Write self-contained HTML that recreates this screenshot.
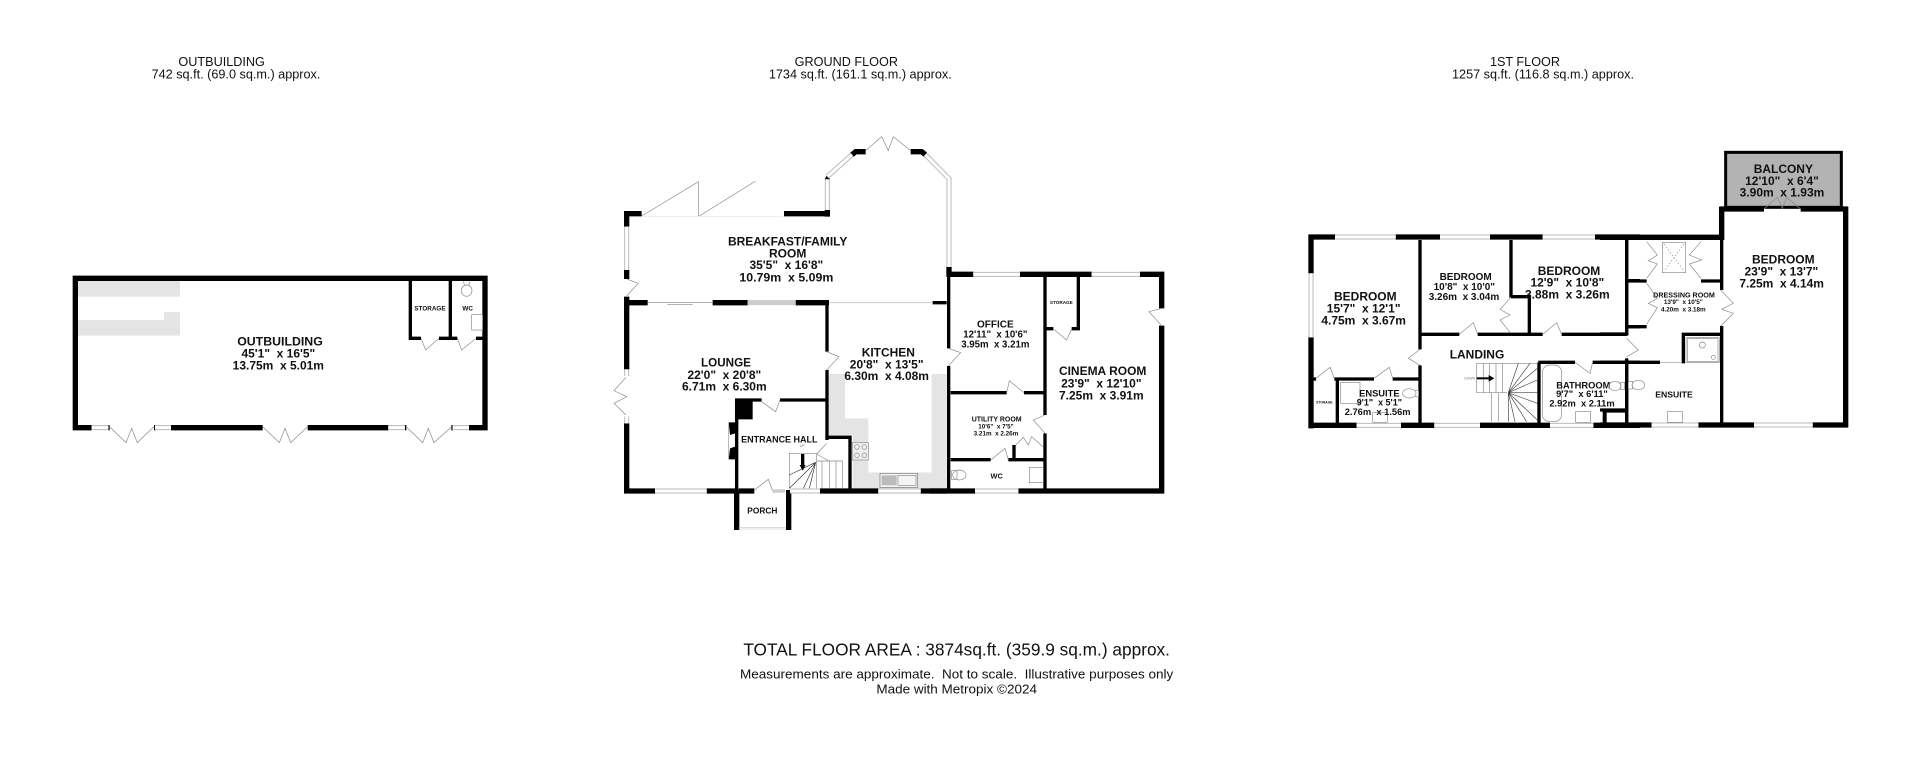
<!DOCTYPE html>
<html><head><meta charset="utf-8"><style>
html,body{margin:0;padding:0;background:#fff}
svg{display:block}
text{font-family:"Liberation Sans",sans-serif;white-space:pre;text-anchor:middle;fill:#111}
.b{font-weight:bold}
.o{stroke:#000;stroke-width:16;fill:none}
.i{stroke:#000;stroke-width:10;fill:none}
.g{stroke:#888;stroke-width:2;fill:none}
.l{stroke:#999;stroke-width:2;fill:none}
.c{fill:#e4e4e4;stroke:none}
.wa{stroke:#bbb;stroke-width:15;fill:none}
.wb{stroke:#fff;stroke-width:9;fill:none}
.wc{stroke:#bbb;stroke-width:1.5;fill:none}
.k{fill:#000;stroke:none}
</style></head><body>
<svg width="1920" height="757" viewBox="0 0 1920 757" xmlns="http://www.w3.org/2000/svg">
<rect width="1920" height="757" fill="#fff"/>

<!-- Headings -->
<g transform="translate(130,40) scale(.33333)">
<text x="275" y="78" font-size="38">OUTBUILDING</text>
<text x="318" y="115" font-size="38">742 sq.ft. (69.0 sq.m.) approx.</text>
</g>
<g transform="translate(740,40) scale(.33333)">
<text x="319" y="78" font-size="38">GROUND FLOOR</text>
<text x="361" y="115" font-size="38">1734 sq.ft. (161.1 sq.m.) approx.</text>
</g>
<g transform="translate(1430,40) scale(.33333)">
<text x="285" y="78" font-size="38">1ST FLOOR</text>
<text x="339" y="115" font-size="38">1257 sq.ft. (116.8 sq.m.) approx.</text>
</g>

<!-- Outbuilding -->
<g transform="translate(50,250) scale(.33333)">
<rect class="c" x="84" y="93" width="306" height="47"/>
<polygon class="c" points="84,210 342,210 342,186 390,186 390,257 84,257"/>
<path class="o" d="M68 85H1313M76 77V541M1305 77V541M68 533H125M363 533H638M773 533H1015M1257 533H1313"/>
<path class="i" d="M1081 93V270M1076 265H1113M1167 265H1222M1201 93V270M1278 265H1298"/>
<path class="i" style="stroke-width:4" d="M177 525V541M314 525V541M1067 525V541M1206 525V541"/>
<path class="wa" d="M125 533H175M315 533H363M1015 533H1065M1208 533H1257"/>
<path class="wb" d="M125 533H175M315 533H363M1015 533H1065M1208 533H1257"/>
<path class="g" d="M178 530L228 578L245 535L262 578L312 530M638 530L688 578L705 535L722 578L773 530M1068 530L1118 578L1135 535L1152 578L1205 530M1113 265L1127 300L1167 265M1222 265L1235 300L1278 265"/>
<ellipse class="g" cx="1250" cy="122" rx="16" ry="17"/>
<path class="g" d="M1240 95L1244 106M1260 95L1256 106"/>
<rect class="g" x="1265" y="194" width="33" height="46"/>
<text class="b" x="690" y="287" font-size="37">OUTBUILDING</text>
<text class="b" x="685" y="323" font-size="36">45'1"  x 16'5"</text>
<text class="b" x="685" y="359" font-size="36">13.75m  x 5.01m</text>
<text class="b" x="1140" y="182" font-size="19">STORAGE</text>
<text class="b" x="1253" y="182" font-size="19">WC</text>
</g>

<!-- Ground floor: breakfast room -->
<g transform="translate(610,120) scale(.33333)">
<path class="o" d="M42 281H95M50 273V320M50 450V477M50 530V560M522 281H660M652 270V290M42 548H113M308 548H413M557 548H657M1017 441V471"/>
<path class="k" d="M644 178L652 163L660 178Z"/>
<path class="o" d="M725 105L737 95H767M902 95H935L946 104"/>
<path class="wa" d="M50 320V450M652 178V270M652 170L726 104M946 104L1017 176V441"/>
<path class="wb" d="M50 320V450M652 178V270M652 170L726 104M946 104L1017 176V441"/>
<path class="g" d="M50 477L85 490L50 528M95 288L265 185V290L437 183M767 92L815 50L835 92L850 50L902 92"/>
<path style="stroke:#eee;stroke-width:3;fill:none" d="M95 290H520"/>
<path class="g" d="M113 547H308M172 553H248"/>
<path style="stroke:#ccc;stroke-width:15;fill:none" d="M413 548H557"/>
<path style="stroke:#ccc;stroke-width:3;fill:none" d="M657 548H968"/>
<text class="b" x="533" y="376" font-size="36">BREAKFAST/FAMILY</text>
<text class="b" x="533" y="412" font-size="36">ROOM</text>
<text class="b" x="529" y="447" font-size="36">35'5"  x 16'8"</text>
<text class="b" x="529" y="484" font-size="37">10.79m  x 5.09m</text>
</g>

<!-- Ground floor: lounge, hall, kitchen -->
<g transform="translate(610,300) scale(.33333)">
<polygon class="c" points="657,222 705,222 705,355 775,355 775,517 965,517 965,222 1010,222 1010,565 728,565 728,407 657,407"/>
<path class="o" d="M50 0V208M50 370V580M42 573H135M290 573H385M386 573H433M630 573H805M932 573H1010"/>
<path class="o" d="M380 570V690M536 570V690"/>
<path class="i" d="M651 0V155M651 210V420M375 300H455M510 300H651M380 300V570M651 412H725M720 407V570"/>
<path class="k" d="M375 298H428V358H375ZM356 367H375V400L360 405ZM356 478H375V440L360 445Z"/>
<path class="l" d="M356 367V478"/>
<path class="wa" d="M50 208V228M50 350V370M135 573H290M540 573H630M805 573H932"/>
<path class="wb" d="M50 208V228M50 350V370M135 573H290M540 573H630M805 573H932"/>
<path class="wc" d="M386 683H528M386 687H528"/>
<path style="stroke:#ccc;stroke-width:10;fill:none" d="M487 573H525"/>
<path class="g" d="M48 232L12 272L50 290L12 310L48 345M650 155L687 170L650 210M455 305L497 335L510 300M433 570L475 538L487 570"/>
<path class="g" d="M538 565V460H620M620 460V565M620 483H697M636 483V565M658 483V565M678 483V565M697 483V565M620 462L650 430M620 462L657 483"/>
<path d="M617 487L538 525M617 487L538 565M617 487L580 565M617 487L598 565" style="stroke:#333;stroke-width:2;fill:none"/>
<path style="stroke:#000;stroke-width:10;fill:none" d="M578 462V498"/>
<path class="k" d="M569 495H587L578 512Z"/>
<rect x="728" y="427" width="47" height="53" fill="#eee" stroke="#888" stroke-width="2"/>
<circle class="g" cx="741" cy="441" r="7"/><circle class="g" cx="763" cy="441" r="7"/><circle class="g" cx="741" cy="466" r="7"/><circle class="g" cx="763" cy="466" r="7"/>
<rect x="810" y="520" width="113" height="42" fill="#f4f4f4" stroke="#777" stroke-width="2"/>
<rect x="815" y="526" width="45" height="30" fill="#bbb"/>
<rect class="g" x="864" y="526" width="54" height="30"/>
<text class="b" x="348" y="200" font-size="35">LOUNGE</text>
<text class="b" x="343" y="237" font-size="36">22'0"  x 20'8"</text>
<text class="b" x="343" y="272" font-size="36">6.71m  x 6.30m</text>
<text class="b" x="835" y="170" font-size="36">KITCHEN</text>
<text class="b" x="830" y="205" font-size="36">20'8"  x 13'5"</text>
<text class="b" x="830" y="240" font-size="36">6.30m  x 4.08m</text>
<text class="b" x="508" y="427" font-size="27">ENTRANCE HALL</text>
<text x="577" y="441" font-size="10" style="fill:#777">UP</text>
<text class="b" x="457" y="640" font-size="25">PORCH</text>
</g>

<!-- Ground floor: office, utility, cinema -->
<g transform="translate(930,260) scale(.33333)">
<path class="o" d="M50 43H130M270 43H485M630 43H702M695 35V145M695 197V700M0 693H135M265 693H702"/>
<path class="i" d="M56 35V265M56 318V690M8 128H50M345 50V465M345 520V690M445 50V210M350 206H370M425 206H450M62 398H230M282 398H345M62 599H182M235 599H345M252 555V600"/>
<path class="wa" d="M130 43H270M485 43H630M135 693H265"/>
<path class="wb" d="M130 43H270M485 43H630M135 693H265"/>
<path class="g" d="M695 145L657 155L695 197M55 265L92 278L55 318M345 465L310 480L345 520M370 207L410 240L425 207M230 398L238 362L282 398M182 600L225 565L235 600M257 555L280 532L295 555L305 530L338 560"/>
<ellipse class="g" cx="88" cy="645" rx="20" ry="15"/>
<rect class="g" x="65" y="632" width="16" height="26"/>
<rect class="g" x="298" y="622" width="42" height="46"/>
<text class="b" x="196" y="202" font-size="30">OFFICE</text>
<text class="b" x="196" y="232" font-size="29">12'11"  x 10'6"</text>
<text class="b" x="196" y="262" font-size="29">3.95m  x 3.21m</text>
<text class="b" x="518" y="345" font-size="36">CINEMA ROOM</text>
<text class="b" x="514" y="382" font-size="36">23'9"  x 12'10"</text>
<text class="b" x="514" y="418" font-size="36">7.25m  x 3.91m</text>
<text class="b" x="200" y="485" font-size="21">UTILITY ROOM</text>
<text class="b" x="198" y="506" font-size="19">10'6"  x 7'5"</text>
<text class="b" x="198" y="527" font-size="19">3.21m  x 2.26m</text>
<text class="b" x="394" y="132" font-size="14">STORAGE</text>
<text class="b" x="200" y="656" font-size="22">WC</text>
</g>

<!-- First floor: west -->
<g transform="translate(1300,220) scale(.33333)">
<path class="o" d="M25 51H105M287 51H420M570 51H728M885 51H1020M33 43V160M33 352V625M25 616H170M303 616H403M540 616H750M880 616H1020"/>
<path class="i" d="M360 60V388M360 436V610M360 343H478M533 343H728M785 343H980M633 60V233M633 230H692M688 230V340M980 60V345M985 182H1020M985 320H1020M980 415V610M715 427H825M878 427H1020M717 427V610M40 477H48M103 477H222M278 477H360M112 475V610M913 568V610M908 573H980"/>
<path class="wa" d="M105 51H287M420 51H570M728 51H885M33 160V352M170 616H303M403 616H540M750 616H880"/>
<path class="wb" d="M105 51H287M420 51H570M728 51H885M33 160V352M170 616H303M403 616H540M750 616H880"/>
<path class="g" d="M360 388L325 415L360 436M478 343L520 308L533 343M728 343L770 308L785 343M630 235L600 268L630 285L600 300L630 337M980 355L1015 390L980 410M825 427L870 460L878 427M48 475L90 442L103 475M222 475L268 442L278 475"/>
<path class="g" d="M530 518V430H712M530 518H622M550 430V518M568 430V518M588 430V518M607 430V518M574 518V605M595 518V605"/>
<path style="stroke:#444;stroke-width:2;fill:none" d="M625 518L655 430M625 518L690 430M625 518L712 445M625 518L712 480M625 518H712M625 518L712 550M625 518L712 600M625 518L680 605M625 518L645 605M625 518V605"/>
<path style="stroke:#000;stroke-width:6;fill:none" d="M530 475H570"/>
<path class="k" d="M566 465L583 475L566 485Z"/>
<text x="509" y="479" font-size="10" style="fill:#777">DOWN</text>
<rect class="g" x="122" y="487" width="58" height="63"/>
<rect class="g" x="218" y="578" width="44" height="29"/>
<ellipse class="g" cx="328" cy="520" rx="20" ry="14"/>
<path class="g" d="M345 512H356V530H345"/>
<rect class="g" x="727" y="435" width="58" height="170" rx="22"/>
<rect class="g" x="827" y="575" width="45" height="32"/>
<text class="b" x="196" y="242" font-size="36">BEDROOM</text>
<text class="b" x="191" y="278" font-size="36">15'7"  x 12'1"</text>
<text class="b" x="191" y="314" font-size="36">4.75m  x 3.67m</text>
<text class="b" x="497" y="180" font-size="30">BEDROOM</text>
<text class="b" x="493" y="210" font-size="30">10'8"  x 10'0"</text>
<text class="b" x="492" y="240" font-size="30">3.26m  x 3.04m</text>
<text class="b" x="807" y="165" font-size="36">BEDROOM</text>
<text class="b" x="802" y="200" font-size="36">12'9"  x 10'8"</text>
<text class="b" x="802" y="235" font-size="36">3.88m  x 3.26m</text>
<text class="b" x="531" y="416" font-size="36">LANDING</text>
<text class="b" x="238" y="530" font-size="28">ENSUITE</text>
<text class="b" x="238" y="557" font-size="27">9'1"  x 5'1"</text>
<text class="b" x="233" y="585" font-size="28">2.76m  x 1.56m</text>
<text class="b" x="850" y="505" font-size="28">BATHROOM</text>
<text class="b" x="846" y="531" font-size="28">9'7"  x 6'11"</text>
<text class="b" x="846" y="560" font-size="28">2.92m  x 2.11m</text>
<text class="b" x="73" y="551" font-size="10">STORAGE</text>
</g>

<!-- First floor: east -->
<g transform="translate(1600,140) scale(.33333)">
<rect x="377" y="37" width="347" height="165" fill="#b3b3b3" stroke="#000" stroke-width="9"/>
<path class="o" d="M360 207H492M602 207H743M737 200V862M0 855H155M295 855H462M638 855H743M0 292H372M365 200V300"/>
<path class="i" d="M365 300V450M365 558V850M80 300V585M80 660V850M85 423H140M303 423H360M85 560H140M0 582H85M0 667H180M250 578V670M245 583H360M0 810H85M15 810V850"/>
<path class="wa" d="M155 855H295M462 855H638"/>
<path class="wb" d="M155 855H295M462 855H638"/>
<path class="g" d="M492 207L532 172L547 205L560 172L602 207M140 305L172 345L145 362L172 372L140 415M303 305L268 345L305 360L268 372L303 415M140 430L172 475L145 490L172 503L140 552M362 450L400 490L365 508L400 520L362 558"/>
<path class="l" d="M180 667H245"/>
<rect class="g" x="258" y="592" width="100" height="76"/>
<rect class="g" x="262" y="596" width="92" height="68"/>
<circle class="g" cx="307" cy="615" r="9"/><circle class="g" cx="340" cy="652" r="6"/>
<rect class="g" x="187" y="307" width="70" height="91"/>
<path class="l" stroke-dasharray="5 5" d="M192 312L252 393M252 312L192 393"/>
<rect class="g" x="202" y="815" width="46" height="32"/>
<ellipse class="g" cx="115" cy="735" rx="19" ry="14"/>
<rect class="g" x="85" y="725" width="12" height="22"/>
<ellipse class="g" cx="45" cy="738" rx="18" ry="14"/>
<rect class="g" x="62" y="727" width="12" height="22"/>
<text class="b" x="550" y="99" font-size="36">BALCONY</text>
<text class="b" x="546" y="135" font-size="36">12'10"  x 6'4"</text>
<text class="b" x="546" y="170" font-size="36">3.90m  x 1.93m</text>
<text class="b" x="550" y="370" font-size="36">BEDROOM</text>
<text class="b" x="544" y="406" font-size="36">23'9"  x 13'7"</text>
<text class="b" x="545" y="442" font-size="36">7.25m  x 4.14m</text>
<text class="b" x="252" y="472" font-size="21.5">DRESSING ROOM</text>
<text class="b" x="250" y="492" font-size="19">13'9"  x 10'5"</text>
<text class="b" x="250" y="515" font-size="19">4.20m  x 3.18m</text>
<text class="b" x="222" y="772" font-size="26">ENSUITE</text>
</g>

<!-- Footer -->
<g transform="translate(700,620) scale(.33333)">
<text x="770" y="107" font-size="54" textLength="1280" lengthAdjust="spacingAndGlyphs">TOTAL FLOOR AREA : 3874sq.ft. (359.9 sq.m.) approx.</text>
<text x="770" y="175" font-size="40" textLength="1300" lengthAdjust="spacingAndGlyphs">Measurements are approximate.  Not to scale.  Illustrative purposes only</text>
<text x="770" y="220" font-size="40" textLength="482" lengthAdjust="spacingAndGlyphs">Made with Metropix ©2024</text>
</g>
</svg>
</body></html>
